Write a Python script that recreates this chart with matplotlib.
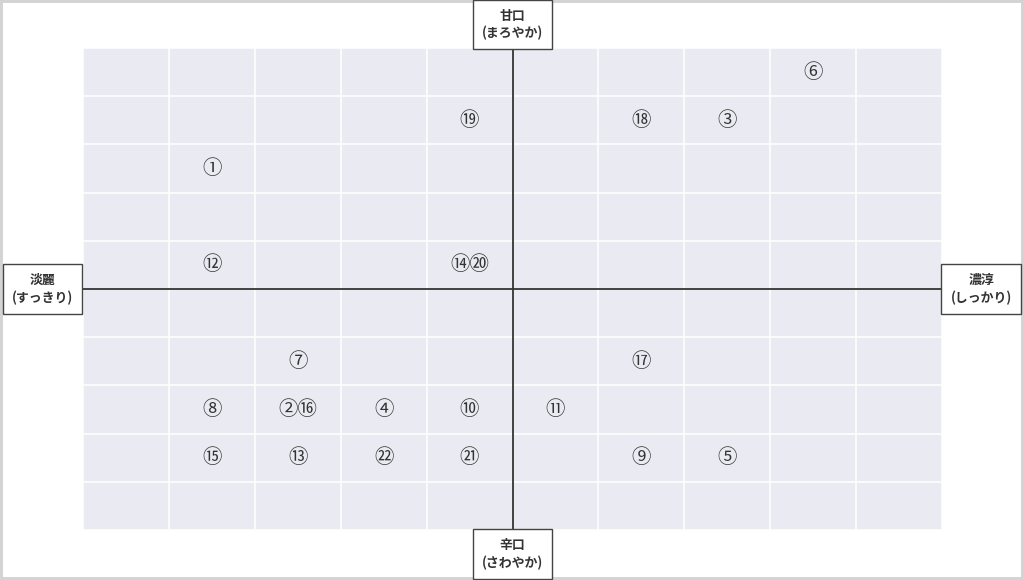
import matplotlib
matplotlib.use("Agg")
import matplotlib.pyplot as plt
import numpy as np

plt.rcParams['font.family'] = ['Noto Sans CJK JP', 'DejaVu Sans']

# sake positions on the taste map (x: 淡麗 -> 濃淳, y: 辛口 -> 甘口)
labels = ["①", "⑥", "⑲", "⑱", "③", "⑫", "⑭⑳", "⑦", "⑰",
          "⑧", "②⑯", "④", "⑩", "⑪", "⑮", "⑬", "㉒", "㉑", "⑨", "⑤"]
xs = [-3.5, 3.5, -0.5, 1.5, 2.5, -3.5, -0.5, -2.5, 1.5,
      -3.5, -2.5, -1.5, -0.5, 0.5, -3.5, -2.5, -1.5, -0.5, 1.5, 2.5]
ys = [2.5, 4.5, 3.5, 3.5, 3.5, 0.5, 0.5, -1.5, -1.5,
      -2.5, -2.5, -2.5, -2.5, -2.5, -3.5, -3.5, -3.5, -3.5, -3.5, -3.5]

axis_top = "甘口\n(まろやか)"
axis_bottom = "辛口\n(さわやか)"
axis_left = "淡麗\n(すっきり)"
axis_right = "濃淳\n(しっかり)"

fig = plt.figure(figsize=(10.24, 5.8), dpi=100)
fig.patch.set_edgecolor("#d4d4d4")
fig.patch.set_linewidth(4)
ax = fig.add_axes([83 / 1024, 50 / 580, 859 / 1024, 482 / 580])
ax.set_facecolor("#eaeaf2")
ax.set_xlim(-5, 5)
ax.set_ylim(-5, 5)
ax.set_xticks(np.arange(-5, 6))
ax.set_yticks(np.arange(-5, 6))
ax.tick_params(length=0, labelbottom=False, labelleft=False)
ax.grid(True, color="white", linewidth=1.1)
ax.set_axisbelow(True)
for s in ax.spines.values():
    s.set_visible(False)

ax.axhline(0, color="#333333", linewidth=1.3)
ax.axvline(0, color="#333333", linewidth=1.3)

for lab, x, y in zip(labels, xs, ys):
    ax.text(x, y, lab, ha="center", va="center", fontsize=14, color="#333333")

box = dict(boxstyle="square,pad=0.7", facecolor="white", edgecolor="#444444", linewidth=1.0)
kw = dict(ha="center", va="center", fontsize=9.3, fontweight="bold",
          color="#333333", linespacing=1.3, bbox=box)
fig.text(512.5 / 1024, 1 - 24.5 / 580, axis_top, **kw)
fig.text(512.5 / 1024, 1 - 554 / 580, axis_bottom, **kw)
fig.text(42.5 / 1024, 1 - 289 / 580, axis_left, **kw)
fig.text(981 / 1024, 1 - 289 / 580, axis_right, **kw)

fig.savefig("out.png", dpi=100)
